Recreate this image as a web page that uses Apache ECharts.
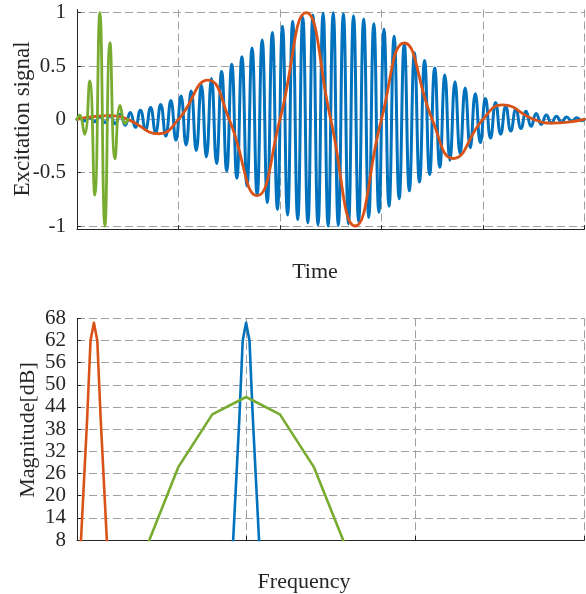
<!DOCTYPE html>
<html><head><meta charset="utf-8">
<script src="https://cdn.jsdelivr.net/npm/echarts@6/dist/echarts.min.js"></script>
<style>html,body{margin:0;padding:0;background:#fff}#c{width:586px;height:594px}</style>
</head><body><div id="c"></div><script>
// ---- Top panel: excitation signals (time in s) ----
const blueTime = [0,
 0.025,0.075,0.125,0.175,0.225,0.275,0.325,0.375,0.425,0.475,
 0.525,0.575,0.625,0.675,0.725,0.775,0.825,0.875,0.925,0.975,
 1.025,1.075,1.125,1.175,1.225,1.275,1.325,1.375,1.425,1.475,
 1.525,1.575,1.625,1.675,1.725,1.775,1.825,1.875,1.925,1.975,
 2.025,2.075,2.125,2.175,2.225,2.275,2.325,2.375,2.425,2.475,
 2.525,2.575,2.625,2.675,2.725,2.775,2.825,2.875,2.925,2.975,
 3.025,3.075,3.125,3.175,3.225,3.275,3.325,3.375,3.425,3.475,
 3.525,3.575,3.625,3.675,3.725,3.775,3.825,3.875,3.925,3.975,
 4.025,4.075,4.125,4.175,4.225,4.275,4.325,4.375,4.425,4.475,
 4.525,4.575,4.625,4.675,4.725,4.775,4.825,4.875,4.925,4.975,
 5];
const blueValue = [0,
 0.012,-0.015,0.018,-0.022,0.026,-0.03,0.035,-0.041,0.048,-0.056,
 0.065,-0.075,0.086,-0.098,0.11,-0.124,0.14,-0.157,0.176,-0.196,
 0.218,-0.241,0.266,-0.293,0.322,-0.352,0.383,-0.415,0.448,-0.482,
 0.517,-0.552,0.588,-0.624,0.67,-0.71,0.745,-0.78,0.815,-0.845,
 0.872,-0.897,0.92,-0.94,0.957,-0.971,0.978,-0.989,0.996,-1.0,
 1.0,-0.996,0.989,-0.978,0.971,-0.957,0.94,-0.92,0.897,-0.872,
 0.845,-0.815,0.78,-0.745,0.71,-0.67,0.624,-0.588,0.552,-0.517,
 0.482,-0.448,0.415,-0.383,0.352,-0.322,0.293,-0.266,0.241,-0.218,
 0.196,-0.176,0.157,-0.14,0.124,-0.11,0.098,-0.086,0.075,-0.065,
 0.056,-0.048,0.041,-0.035,0.03,-0.026,0.022,-0.018,0.015,-0.012,
 0];
// orange: zero crossings and extrema
const orangeTime  = [0, 0.321, 0.5, 0.807, 1, 1.291, 1.5, 1.775, 2, 2.2585, 2.5,
                     2.7415, 3, 3.225, 3.5, 3.709, 4, 4.193, 4.5, 4.679, 5];
const orangeValue = [0, 0.035, 0, -0.135, 0, 0.367, 0, -0.716, 0, 1.0, 0,
                     -1.0, 0, 0.716, 0, -0.367, 0, 0.135, 0, -0.035, 0];
const greenTime = [0,0.025,0.075,0.125,0.175,0.225,0.275,0.325,0.375,0.425,0.475,0.5];
const greenValue = [0,0.04,-0.14,0.36,-0.71,1.0,-1.0,0.72,-0.37,0.13,-0.04,0];
const timeTicks = [-1,-0.5,0,0.5,1];

// ---- Bottom panel: magnitude spectra (Hz, dB) ----
const blueFreq = [9.2,9.4,9.6,9.8,10,10.2,10.4,10.6,10.8];
const blueMag  = [4.8,22.8,40.8,62,66.8,62,40.8,22.8,4.8];
const orangeFreq = [0.2,0.4,0.6,0.8,1.0,1.2,1.4,1.6,1.8];
const orangeMag  = [4.8,22.8,40.8,62,66.8,62,40.8,22.8,4.8];
const greenFreq = [4,6,8,10,12,14,16];
const greenMag  = [4.8,27.8,42,46.7,42,27.8,5];
const magTicks = [8,14,20,26,32,38,44,50,56,62,68];

const zip = (a,b) => a.map((v,i) => [v, b[i]]);
const FONT = 'Liberation Serif';
const DARK = '#262626';
const GRIDC = '#a0a0a0';
const C_BLUE = '#0072BD', C_ORANGE = '#D95319', C_GREEN = '#77AC30';

function xAx(gi, min, max, interval){
  return {type:'value', gridIndex:gi, min, max, interval,
    axisLabel:{show:false},
    axisLine:{show:true, onZero:false, lineStyle:{color:DARK, width:1}},
    axisTick:{show:true, inside:true, length:4, lineStyle:{color:DARK}},
    splitLine:{show:true, lineStyle:{color:GRIDC, width:1, type:[8,4]}}};
}
function yAx(gi, min, max, ticks){
  return {type:'value', gridIndex:gi, min, max,
    axisLabel:{show:true, customValues:ticks, margin:11, color:DARK, fontFamily:FONT, fontSize:21},
    axisLine:{show:true, onZero:false, lineStyle:{color:DARK, width:1}},
    axisTick:{show:true, customValues:ticks, inside:true, length:4, lineStyle:{color:DARK}},
    splitLine:{show:true, lineStyle:{color:GRIDC, width:1, type:[8,4]}}};
}
function line(name, data, color, w, xi, yi, smooth, clip){
  return {type:'line', name, data, xAxisIndex:xi, yAxisIndex:yi, showSymbol:false, symbol:'none',
    smooth, clip, lineStyle:{color, width:w, join:'round', cap:'round'}, itemStyle:{color}, animation:false};
}
const chart = echarts.init(document.getElementById('c'), null, {renderer:'canvas'});
chart.setOption({
  animation:false,
  backgroundColor:'#ffffff',
  grid:[{left:77, right:1.6, top:9.5, height:219.7},
        {left:77, right:1.7, top:318.3, height:221.7}],
  xAxis:[xAx(0,0,5,1), xAx(1,0,30,10)],
  yAxis:[yAx(0,-1.03,1.03,timeTicks), yAx(1,8,68,magTicks)],
  series:[
    line('blue', zip(blueTime, blueValue), C_BLUE, 3, 0, 0, true, false),
    line('orange', zip(orangeTime, orangeValue), C_ORANGE, 2.8, 0, 0, true, false),
    line('green', zip(greenTime, greenValue), C_GREEN, 2.8, 0, 0, true, false),
    line('blueSpec', zip(blueFreq, blueMag), C_BLUE, 2.6, 1, 1, false, true),
    line('orangeSpec', zip(orangeFreq, orangeMag), C_ORANGE, 2.6, 1, 1, false, true),
    line('greenSpec', zip(greenFreq, greenMag), C_GREEN, 2.6, 1, 1, false, true)
  ],
  graphic:[
    {type:'text', x:315, y:272, style:{text:'Time', fontFamily:FONT, fontSize:22, fill:DARK, align:'center', verticalAlign:'middle'}},
    {type:'text', x:304, y:582, style:{text:'Frequency', fontFamily:FONT, fontSize:22, fill:DARK, align:'center', verticalAlign:'middle'}},
    {type:'text', x:23, y:119, rotation:Math.PI/2, style:{text:'Excitation signal', fontFamily:FONT, fontSize:23, fill:DARK, align:'center', verticalAlign:'middle'}},
    {type:'text', x:28, y:430, rotation:Math.PI/2, style:{text:'Magnitude[dB]', fontFamily:FONT, fontSize:22, fill:DARK, align:'center', verticalAlign:'middle'}}
  ]
});
</script></body></html>
